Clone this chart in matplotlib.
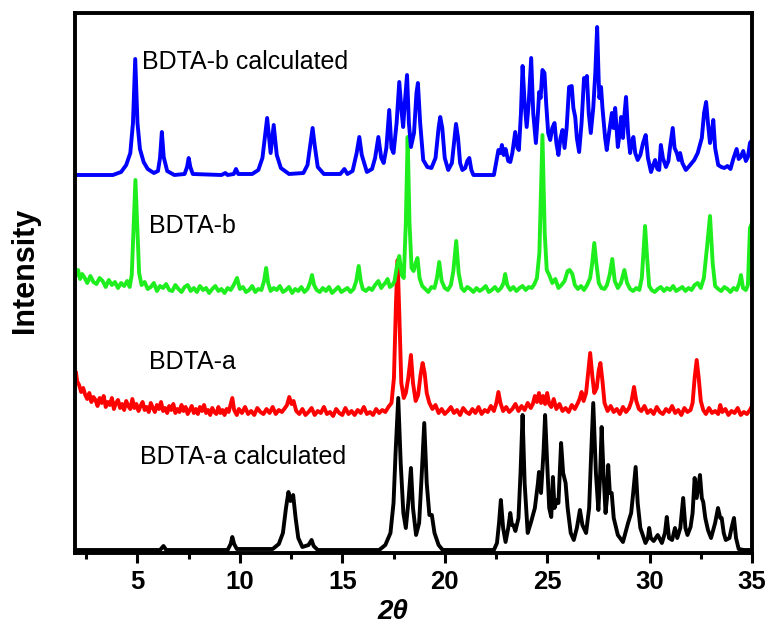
import matplotlib
matplotlib.use("Agg")
import matplotlib.pyplot as plt
from matplotlib.ticker import MultipleLocator
import numpy as np

plt.rcParams['font.family'] = ['Liberation Sans', 'DejaVu Sans']

# 2theta / intensity points (intensity in offset units)
calc_b = [
    (2.0, 378), (3.8, 378), (4.2, 381), (4.45, 388), (4.65, 400), (4.78, 430), (4.89, 494), (5.0, 430),
    (5.12, 404), (5.3, 391), (5.5, 384), (5.8, 380), (6.0, 382), (6.1, 395), (6.19, 421), (6.28, 396),
    (6.45, 382), (6.8, 378), (7.3, 379), (7.42, 386), (7.5, 395), (7.58, 386), (7.7, 379), (9.1, 378),
    (9.29, 380), (9.4, 378), (9.7, 379), (9.81, 384), (9.92, 379), (10.6, 379), (10.9, 383), (11.1, 395),
    (11.33, 435), (11.45, 410), (11.5, 400), (11.65, 428), (11.8, 398), (12.0, 385), (12.4, 379), (13.1, 380),
    (13.3, 388), (13.45, 410), (13.55, 425), (13.65, 408), (13.8, 386), (14.1, 379), (14.9, 379), (15.1, 384),
    (15.25, 379), (15.5, 382), (15.7, 400), (15.83, 416), (15.95, 398), (16.2, 381), (16.45, 384), (16.6, 395),
    (16.76, 416), (16.9, 395), (17.02, 390), (17.15, 405), (17.29, 443), (17.4, 405), (17.5, 400), (17.65, 430),
    (17.78, 471), (17.9, 440), (17.97, 426), (18.05, 450), (18.16, 478), (18.25, 430), (18.35, 406), (18.5, 420),
    (18.62, 460), (18.69, 470), (18.8, 430), (18.95, 393), (19.15, 386), (19.35, 385), (19.55, 395), (19.7, 425),
    (19.78, 436), (19.88, 425), (20.0, 395), (20.17, 383), (20.35, 390), (20.48, 415), (20.55, 429), (20.65, 415),
    (20.75, 390), (20.86, 383), (21.0, 385), (21.1, 392), (21.2, 395), (21.3, 383), (21.4, 378), (22.4, 378),
    (22.55, 395), (22.62, 403), (22.72, 400), (22.79, 408), (22.88, 398), (22.97, 404), (23.1, 392), (23.2, 391),
    (23.3, 400), (23.44, 421), (23.55, 405), (23.62, 403), (23.72, 440), (23.8, 487), (23.9, 450), (24.0, 426),
    (24.1, 450), (24.22, 495), (24.32, 440), (24.45, 410), (24.55, 440), (24.61, 461), (24.68, 455), (24.77, 483),
    (24.87, 480), (24.95, 450), (25.05, 420), (25.15, 413), (25.25, 425), (25.36, 430), (25.45, 410), (25.55, 398),
    (25.65, 415), (25.75, 423), (25.85, 405), (25.95, 425), (26.07, 466), (26.2, 467), (26.28, 445), (26.37, 436),
    (26.45, 415), (26.56, 401), (26.68, 430), (26.8, 475), (26.88, 470), (26.94, 477), (27.03, 440), (27.13, 420),
    (27.25, 445), (27.35, 480), (27.44, 526), (27.52, 470), (27.55, 455), (27.63, 466), (27.7, 445), (27.75, 433),
    (27.83, 415), (27.91, 403), (28.02, 420), (28.16, 440), (28.24, 425), (28.32, 445), (28.4, 420), (28.45, 406),
    (28.53, 418), (28.61, 436), (28.7, 415), (28.78, 440), (28.85, 456), (28.95, 420), (29.05, 400), (29.13, 410),
    (29.21, 416), (29.3, 400), (29.42, 393), (29.55, 398), (29.68, 410), (29.81, 418), (29.92, 395), (30.07, 381),
    (30.18, 388), (30.27, 393), (30.38, 384), (30.47, 383), (30.55, 408), (30.65, 395), (30.8, 386), (30.92, 392),
    (31.0, 406), (31.13, 425), (31.22, 405), (31.33, 400), (31.42, 393), (31.49, 400), (31.6, 390), (31.77, 383),
    (31.9, 386), (32.06, 390), (32.18, 393), (32.35, 400), (32.48, 410), (32.55, 415), (32.66, 440), (32.76, 451),
    (32.85, 430), (32.95, 410), (33.03, 420), (33.11, 433), (33.2, 405), (33.35, 388), (33.5, 386), (33.65, 385),
    (33.8, 387), (33.95, 384), (34.1, 395), (34.25, 404), (34.35, 394), (34.45, 396), (34.57, 402), (34.7, 392),
    (34.8, 396), (34.9, 410), (35.0, 413),
]

exp_b = [
    (2.0, 278), (2.1, 283), (2.2, 274), (2.3, 279), (2.4, 276), (2.55, 270), (2.7, 277), (2.85, 271), (3.0, 269),
    (3.15, 275), (3.3, 272), (3.45, 266), (3.6, 273), (3.75, 268), (3.9, 271), (4.05, 265), (4.2, 270), (4.35, 267),
    (4.5, 272), (4.62, 266), (4.72, 278), (4.8, 320), (4.9, 373), (5.0, 320), (5.08, 280), (5.2, 268), (5.35, 271),
    (5.5, 264), (5.65, 266), (5.8, 270), (5.95, 262), (6.1, 267), (6.25, 265), (6.4, 269), (6.55, 263), (6.7, 262),
    (6.85, 268), (7.0, 264), (7.15, 261), (7.3, 266), (7.45, 268), (7.6, 262), (7.75, 265), (7.9, 261), (8.05, 267),
    (8.2, 263), (8.35, 265), (8.5, 260), (8.65, 264), (8.8, 267), (8.95, 262), (9.1, 264), (9.25, 260), (9.4, 265),
    (9.55, 263), (9.7, 268), (9.86, 275), (10.0, 264), (10.15, 266), (10.3, 261), (10.45, 263), (10.6, 267),
    (10.75, 261), (10.9, 264), (11.05, 263), (11.18, 272), (11.28, 285), (11.38, 270), (11.5, 262), (11.65, 265),
    (11.8, 263), (11.95, 267), (12.1, 261), (12.25, 263), (12.4, 266), (12.55, 260), (12.7, 264), (12.85, 262),
    (13.0, 266), (13.15, 261), (13.3, 264), (13.42, 270), (13.52, 278), (13.62, 268), (13.75, 263), (13.9, 261),
    (14.05, 265), (14.2, 262), (14.35, 266), (14.5, 260), (14.65, 263), (14.8, 266), (14.95, 261), (15.1, 263),
    (15.25, 265), (15.4, 261), (15.55, 264), (15.68, 272), (15.8, 287), (15.9, 272), (16.0, 264), (16.15, 262),
    (16.3, 265), (16.45, 263), (16.6, 268), (16.76, 272), (16.9, 265), (17.0, 268), (17.1, 270), (17.21, 274),
    (17.32, 266), (17.45, 268), (17.55, 272), (17.65, 285), (17.78, 297), (17.9, 278), (18.0, 275), (18.1, 330),
    (18.19, 416), (18.28, 330), (18.38, 285), (18.48, 282), (18.58, 290), (18.67, 295), (18.77, 275), (18.9, 267),
    (19.05, 264), (19.2, 261), (19.35, 266), (19.5, 265), (19.62, 275), (19.73, 291), (19.85, 272), (20.0, 265),
    (20.15, 263), (20.3, 268), (20.42, 282), (20.56, 312), (20.68, 280), (20.82, 265), (20.95, 262), (21.1, 266),
    (21.25, 264), (21.4, 261), (21.55, 265), (21.7, 262), (21.85, 264), (22.0, 267), (22.15, 261), (22.3, 263),
    (22.45, 266), (22.6, 262), (22.75, 265), (22.87, 270), (22.95, 279), (23.05, 268), (23.2, 263), (23.35, 266),
    (23.5, 262), (23.65, 265), (23.8, 267), (23.95, 263), (24.1, 266), (24.25, 265), (24.38, 269), (24.5, 275),
    (24.62, 300), (24.77, 418), (24.88, 320), (24.98, 283), (25.1, 278), (25.25, 270), (25.4, 274), (25.55, 265),
    (25.7, 268), (25.85, 272), (26.0, 282), (26.1, 283), (26.23, 279), (26.35, 268), (26.5, 264), (26.65, 267),
    (26.8, 263), (26.95, 268), (27.1, 275), (27.2, 290), (27.3, 310), (27.4, 290), (27.52, 270), (27.65, 265),
    (27.8, 264), (27.92, 268), (28.05, 278), (28.18, 294), (28.3, 272), (28.45, 265), (28.6, 270), (28.77, 283),
    (28.9, 270), (29.05, 264), (29.2, 262), (29.35, 265), (29.5, 263), (29.62, 275), (29.7, 300), (29.78, 327),
    (29.88, 295), (29.98, 267), (30.1, 263), (30.25, 261), (30.4, 264), (30.55, 266), (30.7, 262), (30.85, 265),
    (31.0, 263), (31.15, 267), (31.3, 262), (31.45, 264), (31.6, 266), (31.75, 262), (31.9, 265), (32.05, 263),
    (32.2, 268), (32.35, 270), (32.5, 265), (32.65, 275), (32.8, 305), (32.95, 337), (33.08, 290), (33.2, 267),
    (33.35, 264), (33.5, 262), (33.65, 266), (33.8, 264), (33.95, 261), (34.1, 265), (34.25, 263), (34.38, 270),
    (34.46, 278), (34.56, 265), (34.7, 263), (34.8, 268), (34.9, 325), (35.0, 330),
]

exp_a = [
    (2.0, 180), (2.05, 172), (2.15, 168), (2.25, 161), (2.35, 165), (2.45, 158), (2.55, 154), (2.65, 160),
    (2.75, 151), (2.85, 156), (2.95, 153), (3.05, 147), (3.15, 155), (3.25, 150), (3.35, 157), (3.45, 146),
    (3.55, 151), (3.65, 148), (3.75, 155), (3.85, 144), (3.95, 150), (4.05, 153), (4.15, 145), (4.25, 149),
    (4.35, 143), (4.45, 152), (4.55, 147), (4.65, 144), (4.75, 154), (4.85, 145), (4.95, 149), (5.05, 142),
    (5.15, 147), (5.25, 151), (5.35, 143), (5.45, 146), (5.55, 141), (5.65, 150), (5.75, 145), (5.85, 141),
    (5.95, 148), (6.05, 144), (6.15, 151), (6.25, 142), (6.35, 145), (6.45, 140), (6.55, 147), (6.65, 143),
    (6.75, 149), (6.85, 140), (6.95, 144), (7.05, 141), (7.15, 148), (7.25, 142), (7.35, 146), (7.45, 139),
    (7.55, 143), (7.65, 147), (7.75, 140), (7.85, 144), (7.95, 139), (8.05, 146), (8.15, 142), (8.25, 148),
    (8.35, 140), (8.45, 143), (8.55, 138), (8.65, 145), (8.75, 141), (8.85, 139), (8.95, 146), (9.05, 140),
    (9.15, 143), (9.25, 138), (9.35, 144), (9.45, 141), (9.55, 149), (9.63, 155), (9.72, 143), (9.85, 138),
    (9.95, 144), (10.1, 140), (10.25, 146), (10.4, 139), (10.55, 142), (10.7, 138), (10.85, 145), (11.0, 141),
    (11.15, 139), (11.3, 144), (11.45, 140), (11.6, 146), (11.75, 139), (11.9, 143), (12.05, 141), (12.2, 145),
    (12.3, 148), (12.41, 156), (12.52, 149), (12.62, 152), (12.75, 142), (12.9, 139), (13.05, 144), (13.2, 138),
    (13.35, 141), (13.5, 145), (13.65, 138), (13.8, 142), (13.95, 140), (14.1, 146), (14.25, 139), (14.4, 141),
    (14.55, 137), (14.7, 144), (14.85, 140), (15.0, 138), (15.15, 145), (15.3, 139), (15.45, 142), (15.6, 138),
    (15.75, 143), (15.9, 140), (16.05, 146), (16.2, 139), (16.35, 141), (16.5, 138), (16.65, 144), (16.8, 140),
    (16.95, 143), (17.1, 141), (17.25, 146), (17.4, 150), (17.52, 175), (17.62, 250), (17.7, 293), (17.78, 240),
    (17.88, 170), (18.0, 155), (18.1, 160), (18.22, 175), (18.35, 198), (18.45, 170), (18.58, 152), (18.7, 158),
    (18.82, 178), (18.92, 190), (19.02, 180), (19.12, 160), (19.25, 150), (19.4, 144), (19.55, 148), (19.7, 140),
    (19.85, 144), (20.0, 139), (20.15, 142), (20.3, 146), (20.45, 140), (20.6, 143), (20.75, 138), (20.9, 145),
    (21.05, 141), (21.2, 139), (21.35, 144), (21.5, 140), (21.65, 146), (21.8, 139), (21.95, 143), (22.1, 141),
    (22.25, 147), (22.4, 142), (22.52, 150), (22.62, 161), (22.72, 150), (22.85, 142), (23.0, 146), (23.15, 141),
    (23.3, 144), (23.45, 149), (23.6, 142), (23.75, 147), (23.9, 143), (24.05, 150), (24.2, 145), (24.3, 149),
    (24.4, 157), (24.5, 151), (24.6, 160), (24.7, 150), (24.8, 157), (24.9, 149), (25.0, 160), (25.1, 149),
    (25.2, 146), (25.32, 154), (25.45, 144), (25.6, 149), (25.75, 142), (25.9, 145), (26.05, 141), (26.2, 148),
    (26.35, 144), (26.5, 150), (26.6, 155), (26.68, 161), (26.78, 152), (26.9, 160), (27.0, 180), (27.1, 200),
    (27.2, 178), (27.3, 160), (27.42, 165), (27.52, 183), (27.6, 190), (27.7, 172), (27.8, 150), (27.95, 142),
    (28.1, 147), (28.25, 141), (28.4, 144), (28.55, 139), (28.7, 146), (28.85, 141), (29.0, 145), (29.12, 152),
    (29.24, 166), (29.35, 152), (29.48, 144), (29.6, 142), (29.75, 147), (29.9, 140), (30.05, 143), (30.2, 139),
    (30.35, 146), (30.5, 141), (30.65, 139), (30.8, 144), (30.95, 141), (31.1, 147), (31.25, 140), (31.4, 143),
    (31.55, 138), (31.7, 145), (31.85, 141), (32.0, 143), (32.1, 150), (32.2, 175), (32.3, 193), (32.4, 175),
    (32.5, 152), (32.62, 143), (32.75, 139), (32.9, 145), (33.05, 140), (33.2, 142), (33.35, 139), (33.45, 148),
    (33.55, 141), (33.7, 144), (33.85, 138), (34.0, 142), (34.15, 140), (34.3, 145), (34.45, 138), (34.6, 141),
    (34.75, 139), (34.9, 143), (35.0, 147),
]

calc_a = [
    (2.0, 3), (6.1, 3), (6.27, 7), (6.4, 3), (9.4, 3), (9.55, 9), (9.63, 16), (9.72, 9), (9.85, 4), (11.6, 4),
    (11.9, 9), (12.1, 20), (12.25, 45), (12.37, 61), (12.47, 52), (12.6, 58), (12.72, 35), (12.85, 15), (13.05, 6),
    (13.35, 8), (13.5, 13), (13.6, 7), (13.8, 3), (16.8, 3), (17.1, 8), (17.35, 20), (17.5, 50), (17.6, 100),
    (17.73, 155), (17.85, 90), (17.98, 40), (18.1, 25), (18.22, 50), (18.35, 85), (18.45, 45), (18.6, 18),
    (18.75, 30), (18.88, 80), (19.0, 130), (19.12, 70), (19.25, 38), (19.37, 38), (19.5, 20), (19.7, 8), (19.9, 3),
    (22.4, 3), (22.55, 10), (22.65, 30), (22.74, 53), (22.85, 25), (22.97, 11), (23.1, 25), (23.2, 40), (23.28, 28),
    (23.35, 28), (23.45, 22), (23.6, 35), (23.7, 80), (23.8, 138), (23.9, 70), (24.05, 20), (24.2, 30), (24.4, 45),
    (24.55, 70), (24.6, 81), (24.7, 60), (24.82, 100), (24.9, 138), (25.0, 90), (25.1, 45), (25.2, 36), (25.28, 76),
    (25.36, 45), (25.47, 53), (25.55, 50), (25.68, 110), (25.78, 80), (25.9, 70), (26.0, 45), (26.15, 20),
    (26.3, 13), (26.45, 25), (26.6, 43), (26.72, 28), (26.9, 20), (27.05, 45), (27.15, 100), (27.25, 150),
    (27.38, 80), (27.5, 43), (27.58, 75), (27.66, 126), (27.75, 80), (27.85, 40), (27.92, 55), (27.98, 88),
    (28.06, 60), (28.15, 60), (28.25, 35), (28.45, 18), (28.7, 11), (28.95, 30), (29.1, 40), (29.2, 60),
    (29.32, 86), (29.42, 50), (29.55, 25), (29.8, 10), (29.92, 15), (29.98, 25), (30.06, 15), (30.2, 12),
    (30.4, 18), (30.6, 10), (30.75, 20), (30.84, 36), (30.95, 15), (31.1, 13), (31.24, 25), (31.35, 15), (31.5, 25),
    (31.64, 55), (31.75, 25), (31.85, 18), (32.0, 26), (32.1, 40), (32.2, 75), (32.3, 55), (32.46, 78), (32.55, 55),
    (32.62, 51), (32.72, 35), (32.85, 23), (33.0, 15), (33.2, 30), (33.34, 45), (33.45, 35), (33.52, 35),
    (33.62, 20), (33.72, 13), (33.9, 15), (34.0, 25), (34.12, 35), (34.22, 15), (34.35, 4), (34.6, 3), (35.0, 3),
]

labels = ["BDTA-a calculated", "BDTA-a", "BDTA-b", "BDTA-b calculated"]
label_x = [5.13, 5.54, 5.54, 5.24]
label_y = [89, 184, 320, 484]
colors = ["black", "#ff0000", "#1eee1e", "#0000ff"]
x_ticks = [5, 10, 15, 20, 25, 30, 35]

fig = plt.figure(figsize=(7.69, 6.32), dpi=100)
ax = fig.add_axes([75 / 769, 79 / 632, 677 / 769, 540 / 632])

for trace, c in zip([calc_a, exp_a, exp_b, calc_b], colors):
    arr = np.array(trace)
    ax.plot(arr[:, 0], arr[:, 1], color=c, linewidth=2.8, solid_joinstyle='round')

for txt, tx, ty in zip(labels, label_x, label_y):
    ax.text(tx, ty, txt, fontsize=18, va='baseline', ha='left')

ax.set_xlim(1.95, 35)
ax.set_ylim(0, 540)
ax.set_xticks(x_ticks)
ax.xaxis.set_minor_locator(MultipleLocator(2.5))
ax.set_yticks([])
ax.tick_params(axis='x', which='major', direction='out', length=7, width=2.2, pad=5,
               labelsize=18.5)
ax.tick_params(axis='x', which='minor', direction='out', length=4, width=2.2)
for lab in ax.get_xticklabels():
    lab.set_fontweight('bold')
for sp in ax.spines.values():
    sp.set_linewidth(2.8)

fig.text(25 / 769, 1 - 270 / 632, "Intensity", rotation=90, fontsize=22, fontweight='bold',
         ha='center', va='center')
fig.text(393 / 769, 1 - 612 / 632, "2θ", fontsize=20, fontweight='bold', fontstyle='italic',
         ha='center', va='center')

fig.savefig("out.png", dpi=100)
